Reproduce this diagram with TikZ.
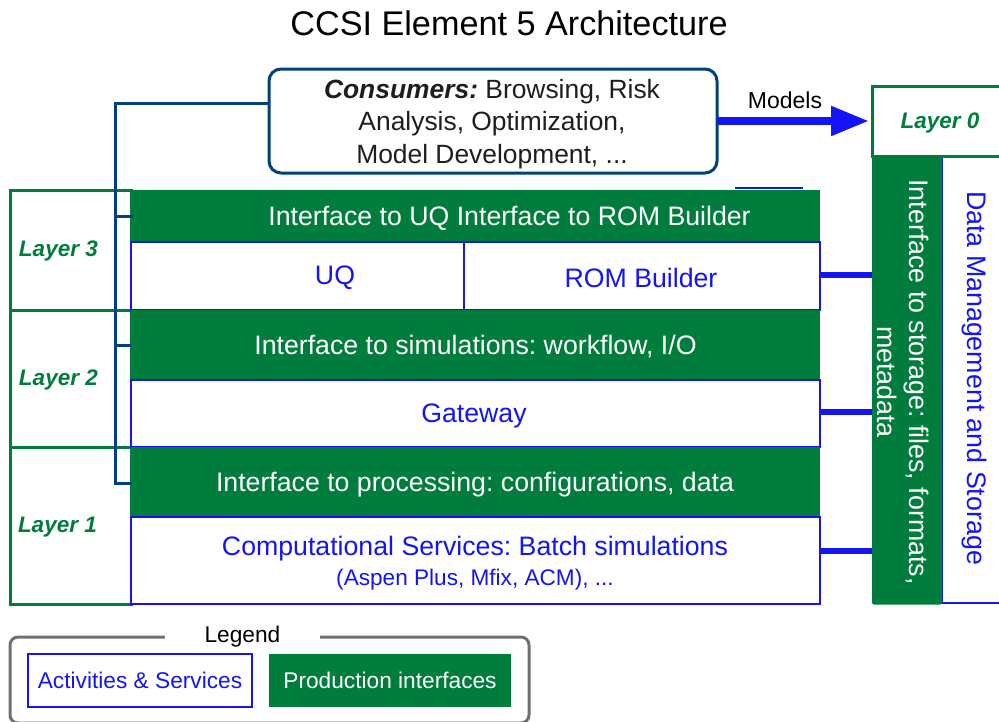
\documentclass[tikz,border=0pt]{standalone}
\usepackage{fontspec}
\setmainfont{Liberation Sans}
\usetikzlibrary{arrows.meta}
\frenchspacing
\definecolor{cgreen}{RGB}{0,125,61}
\definecolor{cblue}{RGB}{20,20,245}
\definecolor{cnavy}{RGB}{0,64,128}
\definecolor{cgray}{RGB}{112,112,112}
\definecolor{ctext}{RGB}{30,30,30}
\tikzset{
  base/.style={inner sep=0pt, outer sep=0pt},
  mainfont/.style={font=\fontsize{26.7}{32}\selectfont},
  greenbar/.style={base, fill=cgreen},
  bartext/.style={base, text=white, mainfont, yshift=-2pt},
  svcbox/.style={base, draw=cblue, line width=2pt, fill=white},
  svctext/.style={base, text=cblue, mainfont, yshift=-2pt},
  layerbox/.style={base, draw=cgreen, line width=3pt},
  layertext/.style={base, text=cgreen, font=\bfseries\itshape\fontsize{22.5}{26}\selectfont, yshift=-2pt},
  navy/.style={draw=cnavy, line width=3pt},
  stub/.style={draw=cblue, line width=6pt},
}
\begin{document}
\begin{tikzpicture}[x=1pt, y=-1pt]
\useasboundingbox (0,0) rectangle (999,721);

% title
\node[base, font=\fontsize{34.2}{40}\selectfont] (title) at (509,23) {CCSI Element 5 Architecture};

% layer boxes
\node[layerbox, minimum width=121, minimum height=120] (L3) at (70.5,250) {};
\node[layerbox, minimum width=121, minimum height=137] (L2) at (70.5,378.5) {};
\node[layerbox, minimum width=121, minimum height=157] (L1) at (70.5,525.5) {};
\node[layertext, anchor=west] (L3t) at (19,249) {Layer 3};
\node[layertext, anchor=west] (L2t) at (19,378) {Layer 2};
\node[layertext, anchor=west] (L1t) at (18,525) {Layer 1};

% layer 3
\node[greenbar, minimum width=689, minimum height=52] (gUQ) at (475.5,216) {};
\node[bartext] (gUQt) at (509.5,216) {Interface to UQ Interface to ROM Builder};
\node[svcbox, minimum width=333, minimum height=68] (uq) at (297.5,276) {};
\node[svctext] (uqt) at (335,276) {UQ};
\node[svcbox, minimum width=356, minimum height=68] (rom) at (642,276) {};
\node[svctext] (romt) at (641,276) {ROM Builder};

% layer 2
\node[greenbar, minimum width=689, minimum height=70] (sim) at (475.5,345) {};
\node[bartext] (simt) at (475.5,345) {Interface to simulations: workflow, I/O};
\node[svcbox, minimum width=689, minimum height=67] (gw) at (475.5,413.5) {};
\node[svctext] (gwt) at (474,413.5) {Gateway};

% layer 1
\node[greenbar, minimum width=689, minimum height=70] (proc) at (475.5,482) {};
\node[bartext] (proct) at (475,483) {Interface to processing: configurations, data};
\node[svcbox, minimum width=689, minimum height=87] (comp) at (475.5,560.5) {};
\node[svctext] (compt) at (475,547) {Computational Services: Batch simulations};
\node[base, text=cblue, font=\fontsize{22.6}{26}\selectfont] (compsub) at (475,580) {(Aspen Plus, Mfix, ACM), ...};

% small blue mark
\draw[cblue, line width=2pt] (735,188) -- (803,188);

% layer 0
\node[base, draw=cblue, line width=2pt, fill=white, minimum width=70, minimum height=447] (dm) at (977,379.5) {};
\node[base, rotate=-90, text=cblue, font=\fontsize{26.8}{32}\selectfont] (dmt) at (974,378) {Data Management and Storage};
\node[base, fill=cgreen, rounded corners=2pt, minimum width=70, minimum height=449] (stor) at (907,380) {};
\node[base, rotate=-90, text=white, align=center, font=\fontsize{26.8}{32.5}\selectfont] (stort) at (903,382) {Interface to storage: files, formats,\\metadata};
\node[layerbox, fill=white, minimum width=140, minimum height=70] (L0) at (942,121) {};
\node[layertext] (L0t) at (940,121) {Layer 0};

% consumers
\node[base, draw=cnavy, line width=3pt, fill=white, rounded corners=12pt,
      minimum width=448, minimum height=104] (cons) at (493,121) {};
\node[base, text=ctext, align=center, font=\fontsize{26.4}{32.5}\selectfont] (const) at (492,124)
  {\textbf{\textit{Consumers:}} Browsing, Risk\\Analysis, Optimization,\\Model Development, ...};

% models arrow
\draw[cblue, line width=8pt, -{Triangle[length=38pt, width=28pt]}, shorten >=3pt] (cons.east) -- (L0.west);
\node[base, text=black, font=\fontsize{23}{27}\selectfont] (models) at (785,100) {Models};

% navy connector
\coordinate (n0) at (115,103);
\coordinate (n1) at (115,483);
\draw[navy] (cons.west |- n0) -- (n0) -- (n1) -- (proc.west |- n1);
\draw[navy] (n0 |- gUQ.west) -- ([xshift=2pt]gUQ.west);
\draw[navy] (n0 |- sim.west) -- (sim.west);

% storage stubs
\draw[stub] (rom.east |- 0,275) -- (stor.west |- 0,275);
\draw[stub] (gw.east |- 0,412) -- (stor.west |- 0,412);
\draw[stub] (comp.east |- 0,551) -- (stor.west |- 0,551);

% legend
\node[base, draw=cgray, line width=3pt, rounded corners=8pt, minimum width=519, minimum height=86] (leg) at (269.5,680) {};
\node[base, fill=white, minimum width=155, minimum height=20, font=\fontsize{22.7}{26}\selectfont] (legt) at (242.5,637) {Legend};
\node[svcbox, minimum width=224, minimum height=53, text=cblue, font=\fontsize{22.7}{26}\selectfont] (legA) at (140,680.5) {Activities \& Services};
\node[greenbar, minimum width=242, minimum height=53, text=white, font=\fontsize{22.7}{26}\selectfont] (legP) at (390,680.5) {Production interfaces};
\end{tikzpicture}
\end{document}
